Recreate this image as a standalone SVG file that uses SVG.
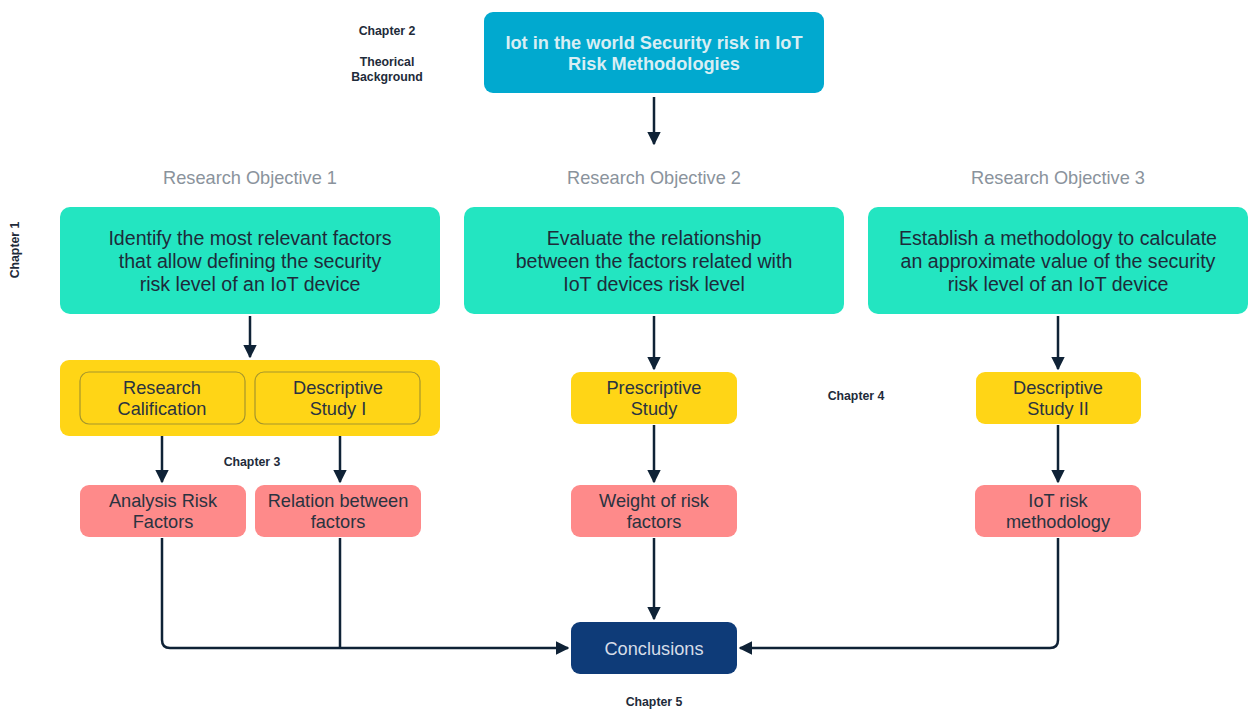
<svg xmlns="http://www.w3.org/2000/svg" width="1254" height="709" viewBox="0 0 1254 709">
<defs>
<style>
.t{font-family:"Liberation Sans",Arial,sans-serif;text-anchor:middle}
.big{font-size:19.6px;fill:#1e2b3a}
.mid{font-size:18.2px;fill:#2a3340}
.ch{font-size:12.3px;font-weight:bold;fill:#1e2b3a}
.ro{font-size:18.2px;fill:#8a939c}
.c{stroke:#0f2236;stroke-width:2.5;fill:none}
</style>
<marker id="ah" viewBox="0 0 10 10" refX="9" refY="5" markerWidth="5.5" markerHeight="5.5" orient="auto" markerUnits="strokeWidth">
<path d="M0,0 L10,5 L0,10 Z" fill="#0f2236"/>
</marker>
</defs>
<rect width="1254" height="709" fill="#ffffff"/>

<g id="labels">
<text class="t ch" x="387" y="35">Chapter 2</text>
<text class="t ch" x="387" y="66">Theorical</text>
<text class="t ch" x="387" y="81">Background</text>
<text class="t ch" x="0" y="0" transform="translate(19,250) rotate(-90)">Chapter 1</text>
<text class="t ch" x="252" y="466">Chapter 3</text>
<text class="t ch" x="856" y="400">Chapter 4</text>
<text class="t ch" x="654" y="706">Chapter 5</text>
<text class="t ro" x="250" y="184">Research Objective 1</text>
<text class="t ro" x="654" y="184">Research Objective 2</text>
<text class="t ro" x="1058" y="184">Research Objective 3</text>
</g>

<g id="connectors">
<line class="c" x1="654" y1="97" x2="654" y2="144" marker-end="url(#ah)"/>
<line class="c" x1="250" y1="316" x2="250" y2="357" marker-end="url(#ah)"/>
<line class="c" x1="654" y1="316" x2="654" y2="369" marker-end="url(#ah)"/>
<line class="c" x1="1058" y1="316" x2="1058" y2="369" marker-end="url(#ah)"/>
<line class="c" x1="162" y1="425" x2="162" y2="482" marker-end="url(#ah)"/>
<line class="c" x1="340" y1="425" x2="340" y2="482" marker-end="url(#ah)"/>
<line class="c" x1="654" y1="425" x2="654" y2="482" marker-end="url(#ah)"/>
<line class="c" x1="1058" y1="425" x2="1058" y2="482" marker-end="url(#ah)"/>
<line class="c" x1="654" y1="538" x2="654" y2="619" marker-end="url(#ah)"/>
<path class="c" d="M162,538 V640 Q162,648 170,648 H568" marker-end="url(#ah)"/>
<line class="c" x1="340" y1="538" x2="340" y2="648"/>
<path class="c" d="M1058,538 V640 Q1058,648 1050,648 H740" marker-end="url(#ah)"/>
</g>

<g id="n-top">
<rect x="484" y="12" width="340" height="81" rx="9" fill="#01a9cf"/>
<text class="t" x="654" y="49" font-size="18.2" font-weight="bold" fill="#d8eef4">Iot in the world Security risk in IoT</text>
<text class="t" x="654" y="70" font-size="18.2" font-weight="bold" fill="#d8eef4">Risk Methodologies</text>
</g>

<g id="n-obj1">
<rect x="60" y="207" width="380" height="107" rx="10" fill="#23e5c1"/>
<text class="t big" x="250" y="245">Identify the most relevant factors</text>
<text class="t big" x="250" y="268">that allow defining the security</text>
<text class="t big" x="250" y="291">risk level of an IoT device</text>
</g>
<g id="n-obj2">
<rect x="464" y="207" width="380" height="107" rx="10" fill="#23e5c1"/>
<text class="t big" x="654" y="245">Evaluate the relationship</text>
<text class="t big" x="654" y="268">between the factors related with</text>
<text class="t big" x="654" y="291">IoT devices risk level</text>
</g>
<g id="n-obj3">
<rect x="868" y="207" width="380" height="107" rx="10" fill="#23e5c1"/>
<text class="t big" x="1058" y="245">Establish a methodology to calculate</text>
<text class="t big" x="1058" y="268">an approximate value of the security</text>
<text class="t big" x="1058" y="291">risk level of an IoT device</text>
</g>

<g id="n-group1">
<rect x="60" y="360" width="380" height="76" rx="9" fill="#ffd516"/>
</g>
<g id="n-rescal">
<rect x="80" y="372" width="165" height="52" rx="9" fill="#ffd516" stroke="#a6962c" stroke-width="1.2"/>
<text class="t mid" x="162" y="394">Research</text>
<text class="t mid" x="162" y="415">Calification</text>
</g>
<g id="n-desc1">
<rect x="255" y="372" width="165" height="52" rx="9" fill="#ffd516" stroke="#a6962c" stroke-width="1.2"/>
<text class="t mid" x="338" y="394">Descriptive</text>
<text class="t mid" x="338" y="415">Study I</text>
</g>
<g id="n-presc">
<rect x="571" y="372" width="166" height="52" rx="9" fill="#ffd516"/>
<text class="t mid" x="654" y="394">Prescriptive</text>
<text class="t mid" x="654" y="415">Study</text>
</g>
<g id="n-desc2">
<rect x="976" y="372" width="165" height="52" rx="9" fill="#ffd516"/>
<text class="t mid" x="1058" y="394">Descriptive</text>
<text class="t mid" x="1058" y="415">Study II</text>
</g>

<g id="n-analysis">
<rect x="80" y="485" width="166" height="52" rx="9" fill="#fe8a8a"/>
<text class="t mid" x="163" y="507">Analysis Risk</text>
<text class="t mid" x="163" y="528">Factors</text>
</g>
<g id="n-relation">
<rect x="255" y="485" width="166" height="52" rx="9" fill="#fe8a8a"/>
<text class="t mid" x="338" y="507">Relation between</text>
<text class="t mid" x="338" y="528">factors</text>
</g>
<g id="n-weight">
<rect x="571" y="485" width="166" height="52" rx="9" fill="#fe8a8a"/>
<text class="t mid" x="654" y="507">Weight of risk</text>
<text class="t mid" x="654" y="528">factors</text>
</g>
<g id="n-iotrisk">
<rect x="975" y="485" width="166" height="52" rx="9" fill="#fe8a8a"/>
<text class="t mid" x="1058" y="507">IoT risk</text>
<text class="t mid" x="1058" y="528">methodology</text>
</g>

<g id="n-conclusions">
<rect x="571" y="622" width="166" height="52" rx="9" fill="#0e3b78"/>
<text class="t" x="654" y="655" font-size="18.2" fill="#d6dde8">Conclusions</text>
</g>
</svg>
